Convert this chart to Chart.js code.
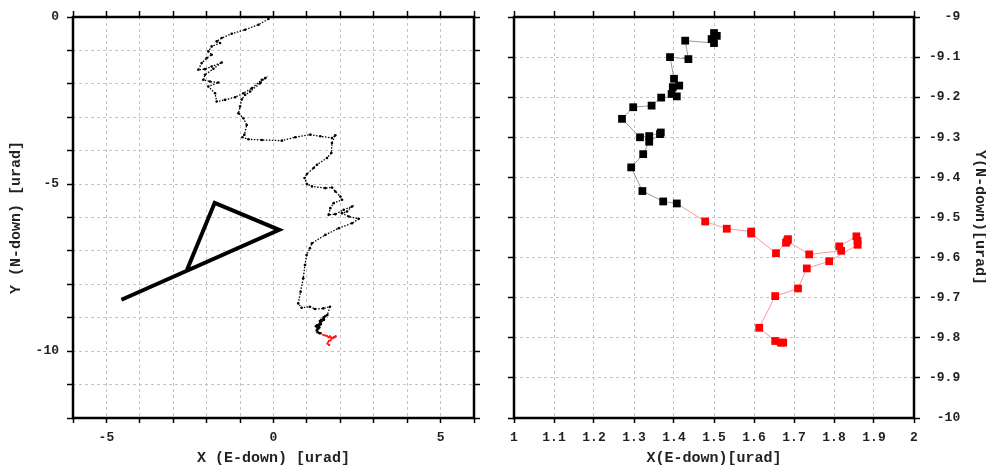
<!DOCTYPE html>
<html>
<head>
<meta charset="utf-8">
<script src="https://cdn.jsdelivr.net/npm/chart.js@4.4.1/dist/chart.umd.min.js"></script>
<style>
  html, body { margin: 0; padding: 0; background: #fff; }
  .panel { position: absolute; top: 0; height: 468px; }
  #leftBox { left: 0; width: 490px; }
  #rightBox { left: 490px; width: 496px; }
</style>
</head>
<body>
<div class="panel" id="leftBox"><canvas id="leftChart"></canvas></div>
<div class="panel" id="rightBox"><canvas id="rightChart"></canvas></div>
<script>
// track seen in the full view (black part before the zoomed window)
const pathX = [-0.15, -0.45, -0.85, -1.25, -1.55, -1.7, -1.6, -1.85, -1.95, -1.85, -2.0, -2.15, -2.25, -2.05, -1.85, -1.55,
  -1.8, -2.05, -2.1, -1.9, -1.65, -1.95, -1.75, -1.7, -1.45, -1.15, -0.9, -0.65, -0.35, -0.25, -0.4, -0.7, -0.85, -0.95,
  -1.0, -1.05, -0.9, -0.8, -0.87, -0.93, -0.75, -0.35, 0.25, 0.65, 1.1, 1.4, 1.75, 1.85, 1.75, 1.73, 1.6, 1.3, 1.2, 1.0,
  0.93, 1.0, 1.15, 1.55, 1.75, 1.85, 2.0, 2.05, 1.8, 1.7, 1.65, 1.85, 2.1, 2.35, 2.2, 2.05, 2.25, 2.55, 2.35, 1.95, 1.55,
  1.15, 1.09, 0.99, 0.94, 0.89, 0.81, 0.74, 0.84, 1.09, 1.24, 1.49, 1.69, 1.61, 1.55, 1.5];
const pathY = [-0.06, -0.23, -0.38, -0.5, -0.63, -0.73, -0.78, -0.88, -1.03, -1.13, -1.23, -1.38, -1.58, -1.56, -1.48, -1.36,
  -1.55, -1.73, -1.88, -1.93, -1.96, -2.08, -2.28, -2.53, -2.48, -2.4, -2.28, -2.13, -1.88, -1.83, -1.98, -2.23, -2.33, -2.46,
  -2.68, -2.88, -3.03, -3.23, -3.52, -3.6, -3.66, -3.68, -3.7, -3.6, -3.52, -3.57, -3.62, -3.54, -3.77, -4.07, -4.22, -4.42, -4.52, -4.7,
  -4.82, -5.0, -5.07, -5.12, -5.1, -5.22, -5.37, -5.47, -5.57, -5.72, -5.92, -5.9, -5.77, -5.67, -5.82, -5.87, -5.97, -6.04, -6.17, -6.32, -6.52,
  -6.77, -6.92, -7.12, -7.42, -7.82, -8.22, -8.57, -8.7, -8.67, -8.74, -8.72, -8.67, -8.92, -8.95, -8.99];

// points inside the zoomed window, black then red
const zoomBlackX = [1.500, 1.507, 1.494, 1.500, 1.428, 1.436, 1.390, 1.400, 1.413, 1.397, 1.394, 1.407, 1.368, 1.344, 1.298,
  1.270, 1.315, 1.338, 1.367, 1.365, 1.338, 1.323, 1.293, 1.321, 1.373, 1.407];
const zoomBlackY = [-9.040, -9.047, -9.055, -9.065, -9.059, -9.105, -9.100, -9.154, -9.171, -9.175, -9.192, -9.198, -9.201, -9.221, -9.225,
  -9.254, -9.300, -9.297, -9.288, -9.292, -9.311, -9.342, -9.375, -9.434, -9.460, -9.465];
const zoomRedX = [1.478, 1.532, 1.593, 1.593, 1.655, 1.680, 1.685, 1.683, 1.738, 1.818, 1.813, 1.856, 1.859, 1.859, 1.788, 1.732,
  1.710, 1.653, 1.613, 1.653, 1.667, 1.673];
const zoomRedY = [-9.510, -9.528, -9.535, -9.540, -9.589, -9.563, -9.554, -9.558, -9.592, -9.583, -9.572, -9.547, -9.558, -9.568, -9.609, -9.627,
  -9.677, -9.696, -9.775, -9.808, -9.812, -9.812];

// thick black polyline in the full view
const arrowX = [-4.55, 0.17, -1.76, -2.59];
const arrowY = [-8.46, -6.37, -5.56, -7.57];

const leftTicksX = [-5, 0, 5];
const leftTicksY = [0, -5, -10];

const toPts = (xs, ys) => xs.map((x, i) => ({ x: x, y: ys[i] }));
const blackPts = toPts(pathX.concat(zoomBlackX), pathY.concat(zoomBlackY));
const zoomPts = toPts(zoomBlackX.concat(zoomRedX), zoomBlackY.concat(zoomRedY));
const nBlack = zoomBlackX.length;

const FONT = "'Liberation Mono', 'DejaVu Sans Mono', monospace";
const tickFont = { family: FONT, size: 13, weight: 'bold' };
const titleFont = { family: FONT, size: 15, weight: 'bold', lineHeight: 1 };

const framePlugin = {
  id: 'frame',
  afterDraw(chart) {
    const { ctx, chartArea: a } = chart;
    ctx.save();
    ctx.strokeStyle = '#000';
    ctx.lineWidth = 2.5;
    ctx.strokeRect(a.left, a.top, a.right - a.left, a.bottom - a.top);
    ctx.restore();
  }
};

const fixSize = (w, h) => (scale) => {
  if (w != null) scale.width = w;
  if (h != null) scale.height = h;
};

const mainGrid = (tl) => ({
  color: '#c4c4c4', lineWidth: 1, tickColor: '#000', tickWidth: 1.5, tickLength: tl, tickBorderDash: []
});
const sideGrid = (tl) => ({
  drawOnChartArea: false, color: '#000', tickColor: '#000', tickWidth: 1.5, tickLength: tl, tickBorderDash: []
});
const noBorder = { display: false, dash: [3, 3] };

Chart.defaults.font.family = FONT;
Chart.defaults.color = '#222';

// left: full view
new Chart(document.getElementById('leftChart'), {
  type: 'scatter',
  data: {
    datasets: [
      {
        data: blackPts,
        showLine: true,
        borderColor: '#000',
        borderWidth: 1.3,
        borderDash: [1.5, 1.5],
        pointRadius: 1.3,
        pointBackgroundColor: '#000',
        pointBorderWidth: 0
      },
      {
        data: toPts(zoomRedX, zoomRedY),
        showLine: true,
        borderColor: '#ff1a1a',
        borderWidth: 1.6,
        pointRadius: 0.9,
        pointBackgroundColor: '#ff1a1a',
        pointBorderWidth: 0
      },
      {
        data: toPts(arrowX, arrowY),
        showLine: true,
        borderColor: '#000',
        borderWidth: 4,
        borderJoinStyle: 'miter',
        pointRadius: 0
      }
    ]
  },
  options: {
    responsive: true,
    maintainAspectRatio: false,
    animation: false,
    events: [],
    plugins: { legend: { display: false }, tooltip: { enabled: false } },
    scales: {
      x: {
        type: 'linear', position: 'bottom', min: -6, max: 6,
        grid: mainGrid(5), border: noBorder,
        ticks: { stepSize: 1, font: tickFont, padding: 7, maxRotation: 0, autoSkip: false,
          callback: (v) => leftTicksX.includes(v) ? String(v) : '' },
        title: { display: true, text: 'X (E-down) [urad]', font: titleFont, color: '#222', padding: { top: 0, bottom: 2.5 } },
        afterFit: fixSize(null, 50)
      },
      x2: {
        type: 'linear', position: 'top', min: -6, max: 6,
        grid: sideGrid(6), border: { display: false },
        ticks: { stepSize: 1, display: false },
        afterFit: fixSize(null, 17)
      },
      y: {
        type: 'linear', position: 'left', min: -12, max: 0,
        grid: mainGrid(6), border: noBorder,
        ticks: { stepSize: 1, font: tickFont, padding: 8, autoSkip: false,
          callback: (v) => leftTicksY.includes(v) ? String(v) : '' },
        title: { display: true, text: 'Y (N-down) [urad]', font: titleFont, color: '#222', padding: { top: 9, bottom: 0 } },
        afterFit: fixSize(73, null)
      },
      y2: {
        type: 'linear', position: 'right', min: -12, max: 0,
        grid: sideGrid(6), border: { display: false },
        ticks: { stepSize: 1, display: false },
        afterFit: fixSize(16, null)
      }
    }
  },
  plugins: [framePlugin]
});

// right: zoom on the end of the track
const fmt = (v) => String(+v.toFixed(1));
// monospace font: left-padding with spaces gives right-aligned labels
const fmtRight = (v) => fmt(v).padStart(4, ' ');
new Chart(document.getElementById('rightChart'), {
  type: 'scatter',
  data: {
    datasets: [{
      data: zoomPts,
      showLine: true,
      borderWidth: 1,
      borderColor: '#999',
      segment: { borderColor: (c) => c.p1DataIndex >= nBlack ? '#f59a9a' : '#9a9a9a' },
      pointStyle: 'rect',
      pointRadius: 5.5,
      pointBorderWidth: 0,
      pointBackgroundColor: (c) => c.dataIndex >= nBlack ? '#ff0000' : '#000'
    }]
  },
  options: {
    responsive: true,
    maintainAspectRatio: false,
    animation: false,
    events: [],
    plugins: { legend: { display: false }, tooltip: { enabled: false } },
    scales: {
      x: {
        type: 'linear', position: 'bottom', min: 1, max: 2,
        grid: mainGrid(5), border: noBorder,
        ticks: { stepSize: 0.1, font: tickFont, padding: 7, maxRotation: 0, autoSkip: false, callback: fmt },
        title: { display: true, text: 'X(E-down)[urad]', font: titleFont, color: '#222', padding: { top: 0, bottom: 2.5 } },
        afterFit: fixSize(null, 50)
      },
      x2: {
        type: 'linear', position: 'top', min: 1, max: 2,
        grid: sideGrid(6), border: { display: false },
        ticks: { stepSize: 0.1, display: false },
        afterFit: fixSize(null, 17)
      },
      y: {
        type: 'linear', position: 'right', min: -10, max: -9,
        grid: mainGrid(6), border: noBorder,
        ticks: { stepSize: 0.1, font: tickFont, padding: 9, crossAlign: 'near', autoSkip: false, callback: fmtRight },
        title: { display: true, text: 'Y(N-down)[urad]', font: titleFont, color: '#222', padding: { top: -1.5, bottom: 0 } },
        afterFit: fixSize(72, null)
      },
      y2: {
        type: 'linear', position: 'left', min: -10, max: -9,
        grid: sideGrid(6), border: { display: false },
        ticks: { stepSize: 0.1, display: false },
        afterFit: fixSize(24, null)
      }
    }
  },
  plugins: [framePlugin]
});
</script>
</body>
</html>
